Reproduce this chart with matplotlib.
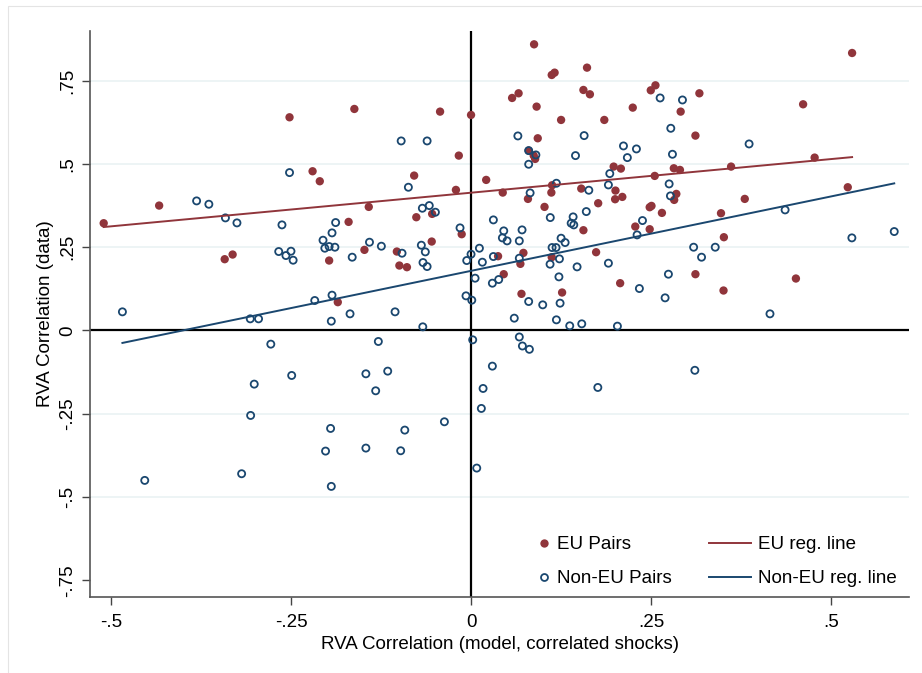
import numpy as np
import matplotlib
matplotlib.use("Agg")
import matplotlib.pyplot as plt
from matplotlib.lines import Line2D
from matplotlib.patches import Rectangle

plt.rcParams['font.family'] = ['Liberation Sans', 'DejaVu Sans']

# EU pairs (model corr, data corr)
eu_x = [-0.510, -0.433, -0.252, -0.162, -0.220, -0.210, -0.170, -0.342, -0.331, -0.197,
        -0.185, -0.148, 0.0875, 0.112, 0.116, 0.161, 0.057, 0.066, 0.156, 0.165,
        0.091, -0.043, 0.000, 0.125, 0.185, 0.2245, 0.0926, -0.017, -0.079, 0.080,
        0.087, 0.089, 0.198, 0.208, 0.021, -0.021, 0.044, 0.1125, 0.1115, 0.153,
        0.079, 0.2005, 0.200, 0.210, 0.1765, 0.102, -0.142, -0.076, -0.054, 0.156,
        0.228, 0.248, 0.529, 0.2495, 0.256, 0.317, 0.291, 0.461, 0.3115, 0.477,
        0.255, 0.2815, 0.290, 0.361, 0.285, 0.282, 0.2505, 0.248, 0.265, 0.380,
        0.347, 0.523, -0.103, -0.0995, -0.089, -0.0546, -0.013, 0.0375, 0.0727, 0.0685,
        0.0454, 0.112, 0.1736, 0.207, 0.070, 0.1264, 0.351, 0.3115, 0.3505, 0.451]
eu_y = [0.322, 0.375, 0.640, 0.665, 0.478, 0.448, 0.326, 0.214, 0.228, 0.210,
        0.085, 0.242, 0.859, 0.767, 0.774, 0.789, 0.698, 0.712, 0.722, 0.709,
        0.672, 0.657, 0.647, 0.632, 0.632, 0.669, 0.577, 0.525, 0.465, 0.540,
        0.525, 0.515, 0.492, 0.486, 0.452, 0.422, 0.414, 0.436, 0.414, 0.426,
        0.395, 0.420, 0.394, 0.401, 0.382, 0.371, 0.371, 0.340, 0.350, 0.301,
        0.312, 0.304, 0.833, 0.721, 0.736, 0.712, 0.657, 0.679, 0.585, 0.519,
        0.464, 0.487, 0.482, 0.492, 0.410, 0.392, 0.374, 0.370, 0.353, 0.395,
        0.352, 0.430, 0.237, 0.195, 0.190, 0.267, 0.289, 0.223, 0.233, 0.200,
        0.169, 0.220, 0.235, 0.142, 0.110, 0.114, 0.280, 0.169, 0.120, 0.156]

# Non-EU pairs
neu_x = [-0.252, -0.381, -0.364, -0.341, -0.325, -0.2625, -0.188, -0.193, -0.484, -0.3065,
         -0.295, -0.278, -0.301, -0.249, -0.306, -0.267, -0.257, -0.250, -0.247, -0.2055,
         -0.203, -0.197, -0.189, -0.165, -0.217, -0.193, -0.194, -0.168, -0.146, -0.453,
         -0.3185, -0.195, -0.202, -0.194, -0.146, -0.097, -0.061, 0.065, 0.157, 0.080,
         0.090, 0.080, 0.145, 0.2116, 0.217, 0.2296, 0.1926, 0.1907, 0.1185, 0.082,
         0.1635, -0.087, -0.0676, -0.058, -0.0495, -0.0153, 0.031, 0.0454, 0.0708, 0.110,
         0.1417, 0.160, 0.139, 0.1426, 0.2625, 0.2935, 0.2773, 0.386, 0.2796, 0.275,
         0.2768, 0.436, 0.238, 0.5875, -0.141, -0.1245, -0.0958, -0.069, -0.0635, -0.0667,
         -0.061, 0.000, -0.006, 0.0116, 0.0157, 0.0056, -0.007, 0.001, 0.0435, 0.050,
         0.067, 0.031, 0.067, 0.0296, 0.0384, 0.080, 0.0995, 0.060, -0.067, -0.1055,
         0.1125, 0.118, 0.125, 0.1306, 0.1227, 0.1097, 0.122, 0.1472, 0.1907, 0.1236,
         0.1185, 0.137, 0.1537, 0.2032, 0.2305, -0.1287, 0.0023, 0.067, 0.0713, 0.081,
         -0.1157, -0.1324, 0.0296, 0.0167, 0.0143, 0.176, -0.037, -0.0977, -0.092, 0.0079,
         0.309, 0.339, 0.320, 0.274, 0.2337, 0.2694, 0.415, 0.3107, 0.5287]
neu_y = [0.474, 0.389, 0.379, 0.338, 0.323, 0.317, 0.324, 0.293, 0.056, 0.035,
         0.035, -0.041, -0.161, -0.135, -0.255, 0.237, 0.225, 0.238, 0.211, 0.271,
         0.247, 0.252, 0.250, 0.220, 0.090, 0.106, 0.028, 0.050, -0.130, -0.450,
         -0.430, -0.294, -0.362, -0.468, -0.353, 0.569, 0.569, 0.584, 0.585, 0.540,
         0.527, 0.499, 0.525, 0.554, 0.519, 0.545, 0.471, 0.437, 0.442, 0.413,
         0.421, 0.430, 0.367, 0.375, 0.355, 0.308, 0.332, 0.299, 0.302, 0.339,
         0.341, 0.357, 0.322, 0.317, 0.698, 0.692, 0.607, 0.560, 0.529, 0.440,
         0.404, 0.362, 0.330, 0.297, 0.265, 0.253, 0.232, 0.256, 0.236, 0.204,
         0.192, 0.229, 0.210, 0.247, 0.205, 0.157, 0.104, 0.091, 0.278, 0.269,
         0.269, 0.222, 0.217, 0.142, 0.153, 0.087, 0.077, 0.037, 0.011, 0.056,
         0.249, 0.249, 0.277, 0.264, 0.215, 0.199, 0.161, 0.191, 0.202, 0.082,
         0.032, 0.014, 0.020, 0.013, 0.287, -0.033, -0.028, -0.0195, -0.0465, -0.0565,
         -0.122, -0.181, -0.107, -0.174, -0.234, -0.171, -0.274, -0.361, -0.299, -0.413,
         0.250, 0.250, 0.220, 0.169, 0.126, 0.098, 0.050, -0.1195, 0.278]

# fitted lines (intercept, slope)
eu_fit = (0.4136, 0.202)
neu_fit = (0.179, 0.447)

red = '#90353B'
navy = '#1A476F'
fs = 13.5

fig = plt.figure(figsize=(9.22, 6.73), dpi=100)
ax = fig.add_axes([90/922, 1-597/673, (909-90)/922, (597-31)/673])

# faint outer frame of the graph region
fig.patches.append(Rectangle((8/922, -0.05), 1.2, 1.05 - 6/673, transform=fig.transFigure,
                             fill=False, edgecolor='#e4e4e4', linewidth=0.8, zorder=-5))

ax.set_xlim(-0.529, 0.608)
ax.set_ylim(-0.800, 0.899)

yt = [-0.75, -0.5, -0.25, 0, 0.25, 0.5, 0.75]
ylab = ['-.75', '-.5', '-.25', '0', '.25', '.5', '.75']
xt = [-0.5, -0.25, 0, 0.25, 0.5]
xlab = ['-.5', '-.25', '0', '.25', '.5']

for v in yt[1:]:
    ax.axhline(v, color='#EAF2F3', linewidth=1.2, zorder=0)

ax.axhline(0, color='black', linewidth=1.6, zorder=1)
ax.axvline(0, color='black', linewidth=1.6, zorder=1)

ax.scatter(eu_x, eu_y, s=36, color=red, edgecolors='none', zorder=3)
ax.scatter(neu_x, neu_y, s=26, facecolors='none', edgecolors=navy, linewidths=1.3, zorder=3)

ex = np.array([min(eu_x), max(eu_x)])
nx = np.array([min(neu_x), max(neu_x)])
ax.plot(ex, eu_fit[0] + eu_fit[1]*ex, color=red, linewidth=1.4, zorder=4)
ax.plot(nx, neu_fit[0] + neu_fit[1]*nx, color=navy, linewidth=1.4, zorder=4)

ax.set_xticks(xt)
ax.set_xticklabels(xlab)
ax.set_yticks(yt)
ax.set_yticklabels(ylab, rotation=90, va='center')
ax.tick_params(direction='out', length=6, width=1, color='#444444', labelsize=fs, pad=4)
ax.tick_params(axis='x', pad=6)

for s in ['top', 'right']:
    ax.spines[s].set_visible(False)
for s in ['left', 'bottom']:
    ax.spines[s].set_color('#555555')
    ax.spines[s].set_linewidth(1.2)

ax.set_xlabel('RVA Correlation (model, correlated shocks)', fontsize=fs, labelpad=4)
ax.set_ylabel('RVA Correlation (data)', fontsize=fs, labelpad=4)

h1 = [Line2D([], [], linestyle='none', marker='o', markersize=6, color=red, markeredgecolor='none'),
      Line2D([], [], linestyle='none', marker='o', markersize=5, markerfacecolor='none',
             markeredgecolor=navy, markeredgewidth=1.3)]
leg1 = ax.legend(h1, ['EU Pairs', 'Non-EU Pairs'], loc='lower left',
                 bbox_to_anchor=(0.527, -0.013), frameon=False, fontsize=fs,
                 handlelength=0.6, handletextpad=0.4, labelspacing=0.9)
ax.add_artist(leg1)
h2 = [Line2D([], [], color=red, linewidth=1.4), Line2D([], [], color=navy, linewidth=1.4)]
ax.legend(h2, ['EU reg. line', 'Non-EU reg. line'], loc='lower left',
          bbox_to_anchor=(0.735, -0.013), frameon=False, fontsize=fs,
          handlelength=2.24, handletextpad=0.37, labelspacing=0.9)

fig.savefig('out.png', dpi=100)
